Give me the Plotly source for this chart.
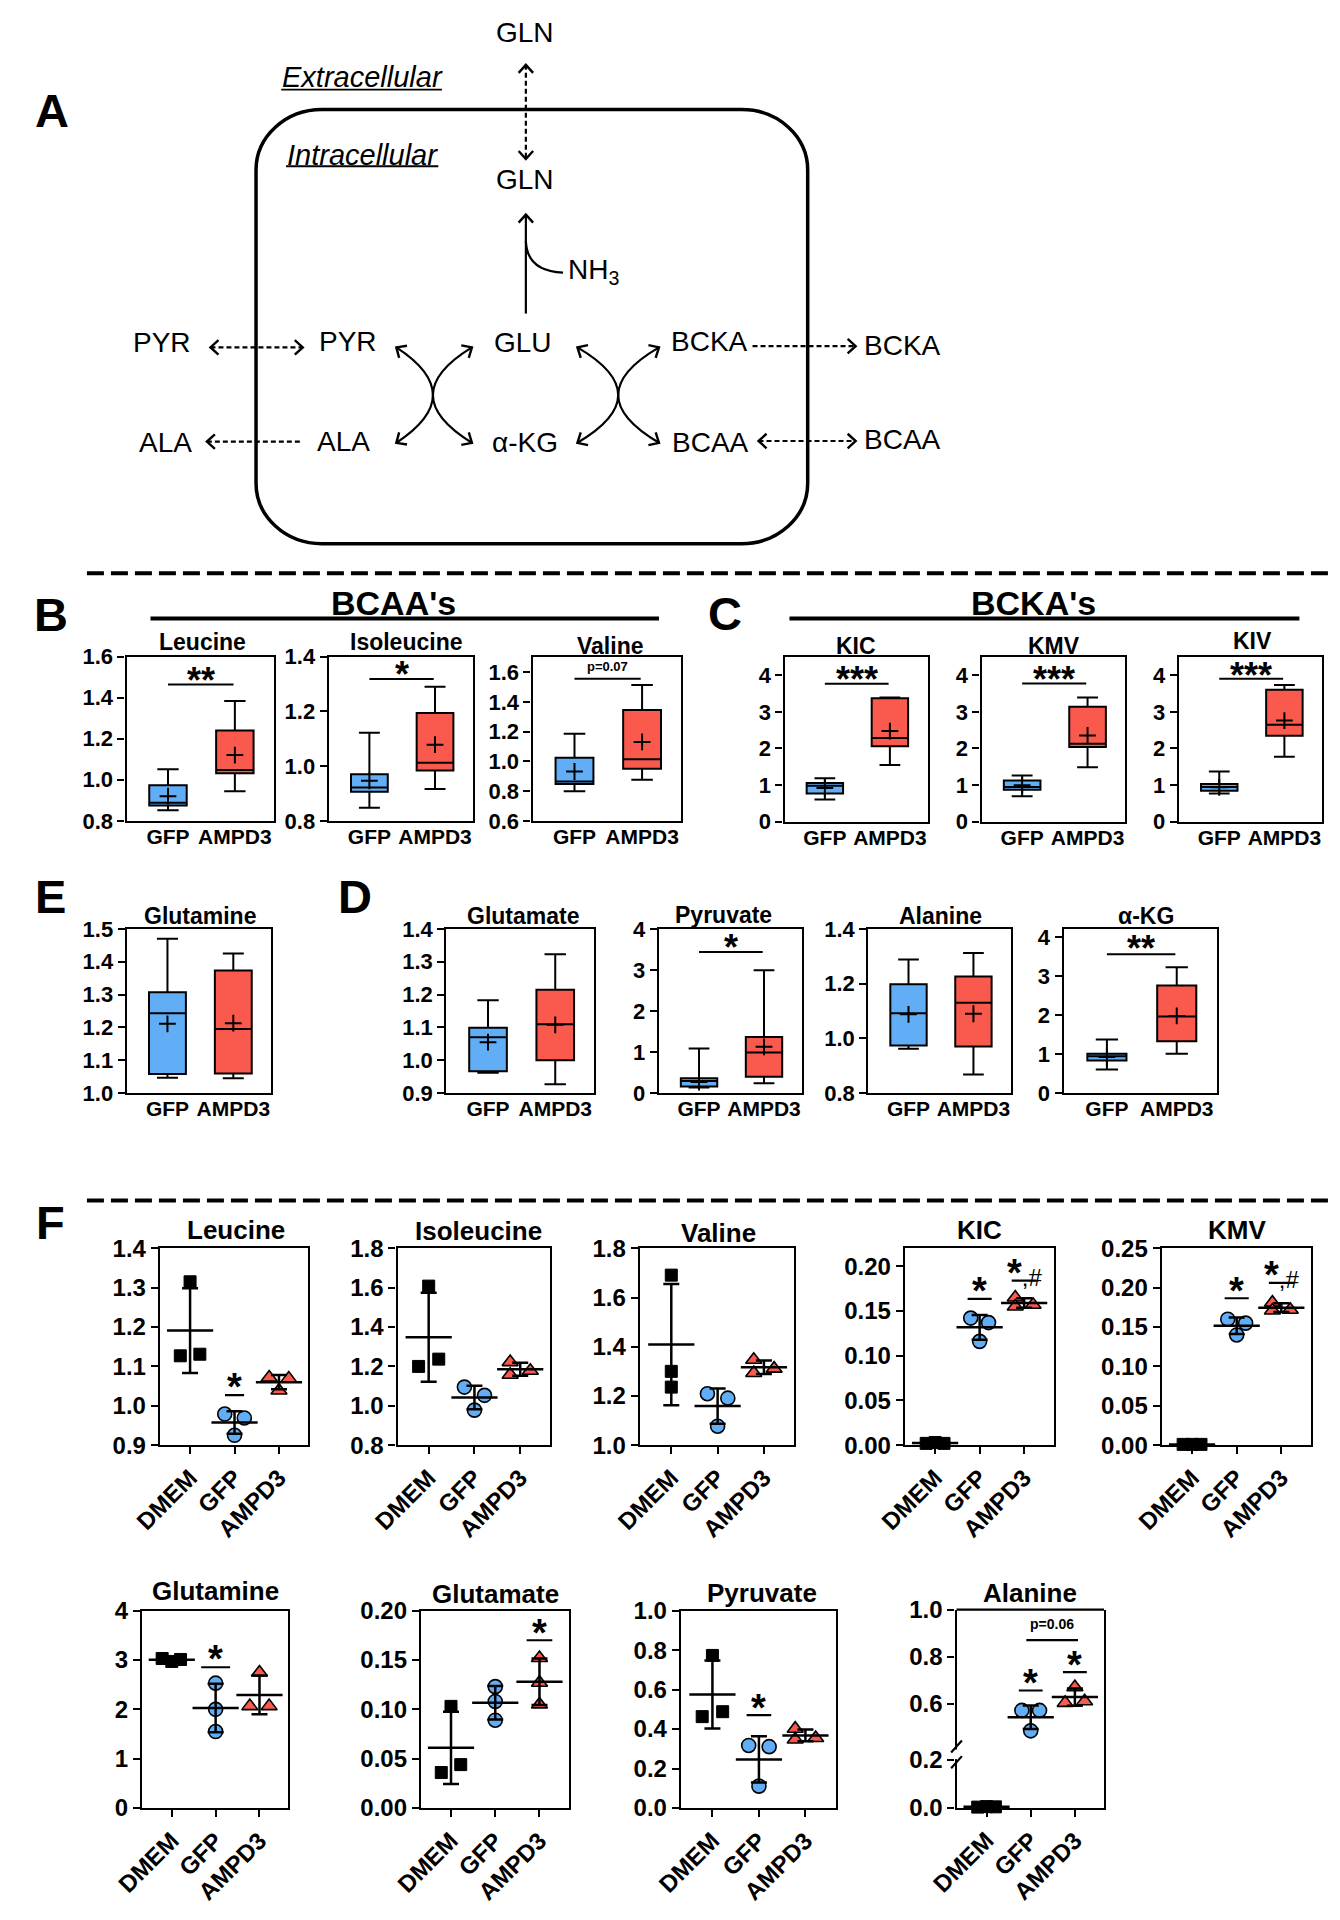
import math
import numpy as np
import plotly.graph_objects as go

# ------------------------------------------------------------------ data
box_groups = ["GFP", "AMPD3"]
# box summaries: [lower whisker, Q1, median, Q3, upper whisker, mean]
leu_gfp = [0.851, 0.875, 0.888, 0.973, 1.051, 0.920]
leu_ampd3 = [0.944, 1.032, 1.048, 1.240, 1.384, 1.120]
ile_gfp = [0.848, 0.906, 0.922, 0.970, 1.122, 0.946]
ile_ampd3 = [0.916, 0.984, 1.012, 1.194, 1.290, 1.078]
val_gfp = [0.799, 0.848, 0.865, 1.025, 1.186, 0.932]
val_ampd3 = [0.877, 0.950, 1.014, 1.346, 1.514, 1.131]
kic_gfp = [0.602, 0.764, 0.980, 1.052, 1.187, 0.917]
kic_ampd3 = [1.546, 2.058, 2.283, 3.371, 3.389, 2.472]
kmv_gfp = [0.692, 0.872, 0.944, 1.124, 1.258, 0.989]
kmv_ampd3 = [1.483, 2.040, 2.130, 3.137, 3.389, 2.355]
kiv_gfp = [0.764, 0.845, 0.944, 1.025, 1.366, 0.935]
kiv_ampd3 = [1.771, 2.346, 2.643, 3.604, 3.730, 2.760]
gln_gfp = [1.047, 1.058, 1.243, 1.307, 1.470, 1.211]
gln_ampd3 = [1.045, 1.060, 1.195, 1.373, 1.425, 1.213]
glu_gfp = [0.962, 0.967, 1.070, 1.099, 1.183, 1.055]
glu_ampd3 = [0.927, 1.000, 1.110, 1.215, 1.323, 1.108]
pyr_gfp = [0.137, 0.161, 0.298, 0.362, 1.087, 0.270]
pyr_ampd3 = [0.240, 0.400, 0.990, 1.368, 2.994, 1.127]
ala_gfp = [0.962, 0.974, 1.092, 1.198, 1.288, 1.088]
ala_ampd3 = [0.868, 0.970, 1.130, 1.226, 1.312, 1.090]
akg_gfp = [0.606, 0.834, 0.943, 1.010, 1.373, 0.926]
akg_ampd3 = [1.010, 1.330, 1.962, 2.762, 3.225, 1.979]

f_groups = ["DMEM", "GFP", "AMPD3"]
f_leu_dmem = [1.315, 1.127, 1.131]
f_leu_gfp = [0.979, 0.969, 0.925]
f_leu_ampd3 = [1.072, 1.069, 1.039]
f_ile_dmem = [1.608, 1.200, 1.237]
f_ile_gfp = [1.095, 1.053, 0.978]
f_ile_ampd3 = [1.222, 1.158, 1.178]
f_val_dmem = [1.691, 1.300, 1.236]
f_val_gfp = [1.209, 1.191, 1.077]
f_val_ampd3 = [1.347, 1.293, 1.311]
f_kic_dmem = [0.002, 0.003, 0.002]
f_kic_gfp = [0.142, 0.137, 0.116]
f_kic_ampd3 = [0.165, 0.155, 0.157]
f_kmv_dmem = [0.001, 0.001, 0.001]
f_kmv_gfp = [0.160, 0.155, 0.140]
f_kmv_ampd3 = [0.181, 0.171, 0.172]
f_gln_dmem = [3.03, 2.97, 3.01]
f_gln_gfp = [2.53, 2.00, 1.55]
f_gln_ampd3 = [2.745, 2.065, 2.065]
f_glu_dmem = [0.103, 0.036, 0.044]
f_glu_gfp = [0.123, 0.108, 0.089]
f_glu_ampd3 = [0.152, 0.127, 0.105]
f_pyr_dmem = [0.773, 0.463, 0.488]
f_pyr_gfp = [0.317, 0.311, 0.111]
f_pyr_ampd3 = [0.402, 0.347, 0.355]
f_ala_dmem = [0.003, 0.005, 0.004]
f_ala_gfp = [0.571, 0.571, 0.484]
f_ala_ampd3 = [0.670, 0.603, 0.610]

# ------------------------------------------------------------------ page geometry
W, H = 1340, 1920
REF_W = 1094.0   # positions below are measured on a 1094-px-wide preview
BODY = 8.0       # default html body margin (page px)


def X(x):
    return (x * W / REF_W - BODY) / W


def Y(y):
    return 1 - (y * W / REF_W - BODY) / H


FONT = "Liberation Sans, Arial, sans-serif"
BLUE = "#62AEF6"
RED = "#F95A4D"

fig = go.Figure()
layout = {}
shapes = []
annots = []
counter = [0]


def tfont(size, weight="bold", style="normal"):
    return dict(family=FONT, size=size, color="black", weight=weight, style=style)


def text(x, y, s, size, weight="bold", style="normal", xanchor="center", yanchor="middle"):
    annots.append(dict(x=X(x), y=Y(y), xref="paper", yref="paper", text=s, showarrow=False,
                       font=tfont(size, weight, style), xanchor=xanchor, yanchor=yanchor))


def pline(x0, y0, x1, y1, width=2.2, dash="solid"):
    shapes.append(dict(type="line", xref="paper", yref="paper", x0=X(x0), y0=Y(y0), x1=X(x1), y1=Y(y1),
                       line=dict(color="black", width=width, dash=dash)))


def ppath(cmds, width=2.2):
    shapes.append(dict(type="path", xref="paper", yref="paper", path=cmds,
                       line=dict(color="black", width=width), fillcolor="rgba(0,0,0,0)"))


def P(x, y):
    return f"{X(x):.6f},{Y(y):.6f}"


AX = dict(showline=True, linecolor="black", linewidth=2.2, showgrid=False, zeroline=False,
          fixedrange=True, tickcolor="black", tickwidth=2.2, ticklen=7)


def ids(n):
    s = "" if n == 1 else str(n)
    return "x" + s, "y" + s, "xaxis" + s, "yaxis" + s


def add_subplot(frame, xr, xtext, xsize, xangle, xticks, yr, t0, dt, fmt, ysize, xstand=0):
    counter[0] += 1
    n = counter[0]
    xid, yid, xk, yk = ids(n)
    l, r, t, b = frame
    layout[xk] = dict(AX, domain=[X(l), X(r)], range=xr, anchor=yid, mirror=True,
                      tickmode="array", tickvals=list(range(len(xtext))), ticktext=xtext,
                      tickfont=tfont(xsize), tickangle=xangle, ticks=xticks, ticklabelstandoff=xstand)
    layout[yk] = dict(AX, domain=[Y(b), Y(t)], range=yr, anchor=xid, mirror=True,
                      tickmode="linear", tick0=t0, dtick=dt, tickformat=fmt,
                      ticks="outside", tickfont=tfont(ysize))
    return xid, yid


# ------------------------------------------------------------------ panel A (pathway sketch)
def chevron(x, y, dx, dy, L=9.0, ang=42):
    n = math.hypot(dx, dy)
    bx, by = -dx / n, -dy / n
    a = math.radians(ang)
    p1 = (x + L * (bx * math.cos(a) - by * math.sin(a)), y + L * (bx * math.sin(a) + by * math.cos(a)))
    p2 = (x + L * (bx * math.cos(-a) - by * math.sin(-a)), y + L * (bx * math.sin(-a) + by * math.cos(-a)))
    ppath(f"M {P(*p1)} L {P(x, y)} L {P(*p2)}", width=2.4)


l, r, t, b, rx, ry, k = 190, 650, 79, 438.5, 55, 50, 0.5523
ppath(f"M {P(l+rx, t)} L {P(r-rx, t)} C {P(r-rx+k*rx, t)} {P(r, t+ry-k*ry)} {P(r, t+ry)} "
      f"L {P(r, b-ry)} C {P(r, b-ry+k*ry)} {P(r-rx+k*rx, b)} {P(r-rx, b)} "
      f"L {P(l+rx, b)} C {P(l+rx-k*rx, b)} {P(l, b-ry+k*ry)} {P(l, b-ry)} "
      f"L {P(l, t+ry)} C {P(l, t+ry-k*ry)} {P(l+rx-k*rx, t)} {P(l+rx, t)} Z", width=3.5)

DASH = "5px,3px"
pline(415, 42, 415, 120, dash=DASH)
chevron(415, 42, 0, -1)
chevron(415, 120, 0, 1)
pline(415, 248, 415, 166)
chevron(415, 166, 0, -1)
ppath(f"M {P(415, 188)} Q {P(416, 213)} {P(446, 214)}")
pline(152, 276, 229, 276, dash=DASH)
chevron(152, 276, -1, 0)
chevron(229, 276, 1, 0)
pline(149, 354, 229, 354, dash=DASH)
chevron(149, 354, -1, 0)
pline(604, 275, 690, 275, dash=DASH)
chevron(690, 275, 1, 0)
pline(609, 353.5, 690, 353.5, dash=DASH)
chevron(609, 353.5, -1, 0)
chevron(690, 353.5, 1, 0)
for (xa, xc, xb) in [(307, 368, 307), (370, 305, 370), (458, 526, 458), (526, 458, 526)]:
    ya, yc, yb = 276, 315.5, 355
    ppath(f"M {P(xa, ya)} Q {P(xc, yc)} {P(xb, yb)}")
    chevron(xa, ya, xa - xc, ya - yc)
    chevron(xb, yb, xb - xc, yb - yc)

DS = 28
text(414, 15.5, "GLN", DS, "normal")
text(414, 137, "GLN", DS, "normal")
text(471, 213, "NH<sub>3</sub>", DS, "normal")
text(112, 272, "PYR", DS, "normal")
text(267, 271, "PYR", DS, "normal")
text(413, 272, "GLU", DS, "normal")
text(568, 271.5, "BCKA", DS, "normal")
text(729, 274, "BCKA", DS, "normal")
text(114.6, 355, "ALA", DS, "normal")
text(263, 353.5, "ALA", DS, "normal")
text(414, 355, "α-KG", DS, "normal")
text(569, 355, "BCAA", DS, "normal")
text(729, 352, "BCAA", DS, "normal")
text(278.6, 52, "Extracellular", 29, "normal", "italic")
pline(211, 62.5, 345, 62.5, width=1.8)
text(278.6, 116.5, "Intracellular", 29, "normal", "italic")
pline(215, 126, 342, 126, width=1.8)

LET = 47
text(20, 80, "A", LET)
text(19, 497, "B", LET)
text(581, 496, "C", LET)
text(19, 731, "E", LET)
text(272.6, 731, "D", LET)
text(19, 1001, "F", LET)
text(304.5, 488, "BCAA's", 34)
pline(102, 500.5, 526, 500.5, width=4)
text(838.5, 488, "BCKA's", 34)
pline(634.8, 500.5, 1060, 500.5, width=4)
pline(49, 463, 1090, 463, width=4, dash="17px,7px")
pline(49, 982.5, 1090, 982.5, width=4, dash="17px,7px")

# ------------------------------------------------------------------ box panels (B-E)
BOX_XR = [-0.62, 1.58]
STAR = 36
box_panels = [
    ("Leucine", leu_gfp, leu_ampd3, (82, 204.7, 532, 668), [0.8, 1.6], 0.8, 0.2, ".1f", (145, 520), (1.464, "**", 1.525)),
    ("Isoleucine", ile_gfp, ile_ampd3, (250.6, 371, 532, 668), [0.8, 1.4], 0.8, 0.2, ".1f", (315, 520), (1.318, "*", 1.365)),
    ("Valine", val_gfp, val_ampd3, (420.6, 544.6, 532, 668), [0.6, 1.706], 0.6, 0.2, ".1f", (485, 523), (1.556, "p=0.07", 1.64)),
    ("KIC", kic_gfp, kic_ampd3, (630.7, 750, 532, 668.6), [0, 4.51], 0, 1, "d", (690, 523), (3.766, "***", 4.13)),
    ("KMV", kmv_gfp, kmv_ampd3, (795, 915, 532, 668.6), [0, 4.51], 0, 1, "d", (855, 523), (3.775, "***", 4.13)),
    ("KIV", kiv_gfp, kiv_ampd3, (959.5, 1079, 532, 668.6), [0, 4.51], 0, 1, "d", (1020.7, 519), (3.901, "***", 4.24)),
    ("Glutamine", gln_gfp, gln_ampd3, (82.1, 202.9, 757.5, 893.5), [1.0, 1.5], 1.0, 0.1, ".1f", (143.4, 747), None),
    ("Glutamate", glu_gfp, glu_ampd3, (348.7, 472, 757.5, 893.5), [0.9, 1.4], 0.9, 0.1, ".1f", (412.5, 747), None),
    ("Pyruvate", pyr_gfp, pyr_ampd3, (525.8, 645, 757.5, 893.5), [0, 4], 0, 1, "d", (580, 746), (3.44, "*", 3.76)),
    ("Alanine", ala_gfp, ala_ampd3, (700.5, 819.6, 757.5, 893.5), [0.8, 1.4], 0.8, 0.2, ".1f", (760.6, 747), None),
    ("α-KG", akg_gfp, akg_ampd3, (863.4, 991.5, 757.5, 893.5), [0, 4.21], 0, 1, "d", (932.3, 747), (3.562, "**", 3.92)),
]

for (title, gfp, amp, frame, yr, t0, dt, fmt, tpos, sig) in box_panels:
    xid, yid = add_subplot(frame, BOX_XR, box_groups, 21, 0, "", yr, t0, dt, fmt, 22, xstand=-4)
    for i, (s, col) in enumerate([(gfp, BLUE), (amp, RED)]):
        fig.add_trace(go.Box(x=[i], lowerfence=[s[0]], q1=[s[1]], median=[s[2]], q3=[s[3]],
                             upperfence=[s[4]], fillcolor=col, line=dict(color="black", width=2),
                             width=0.56, whiskerwidth=0.57, xaxis=xid, yaxis=yid,
                             showlegend=False, hoverinfo="skip"))
        fig.add_trace(go.Scatter(x=[i], y=[s[5]], mode="markers",
                                 marker=dict(symbol="cross-thin", size=12, line=dict(color="black", width=2)),
                                 xaxis=xid, yaxis=yid, showlegend=False, hoverinfo="skip"))
    text(tpos[0], tpos[1], title, 23)
    if sig:
        by, s, ty = sig
        shapes.append(dict(type="line", xref=xid, yref=yid, x0=0.0, x1=0.98, y0=by, y1=by,
                           line=dict(color="black", width=2)))
        sz = STAR if "*" in s else 13
        annots.append(dict(x=0.49, y=ty, xref=xid, yref=yid, text=s, showarrow=False,
                           font=tfont(sz), yshift=-0.24 * sz if "*" in s else 0))

# ------------------------------------------------------------------ panel F (dot plots, mean ± SD)
F_XR = [-0.68, 2.66]
MARK = [dict(symbol="square", size=12, color="black", line=dict(color="black", width=1)),
        dict(symbol="circle", size=14, color=BLUE, line=dict(color="black", width=1.6)),
        dict(symbol="triangle-up", size=14, color=RED, line=dict(color="black", width=1.6))]

SPA = [[0, -0.22, 0.22], [-0.22, 0.22, 0], [-0.22, 0.22, 0]]
f_panels = [
    ("Leucine", [f_leu_dmem, f_leu_gfp, f_leu_ampd3], SPA, (109.8, 233.6, 1022, 1185), [0.9, 1.4], 0.9, 0.1, ".1f", (173.5, 1007),
     [(0.785, 1.215, 1.027, "*", 1.071)]),
    ("Isoleucine", [f_ile_dmem, f_ile_gfp, f_ile_ampd3], [[0, -0.22, 0.22], [-0.22, 0.22, 0], [-0.22, -0.22, 0.22]],
     (308, 435.5, 1022, 1185), [0.8, 1.8], 0.8, 0.2, ".1f", (375.3, 1008), []),
    ("Valine", [f_val_dmem, f_val_gfp, f_val_ampd3], [[0, 0, 0], [-0.22, 0.22, 0], [-0.22, -0.22, 0.22]],
     (510, 639, 1022, 1185), [1.0, 1.8], 1.0, 0.2, ".1f", (576, 1009), []),
    ("KIC", [f_kic_dmem, f_kic_gfp, f_kic_ampd3], [[-0.2, 0, 0.2], [-0.2, 0.2, 0], [-0.2, -0.2, 0.2]],
     (731, 855, 1022, 1185), [0, 0.22], 0, 0.05, ".2f", (793.3, 1007),
     [(0.73, 1.27, 0.1635, "*", 0.1825), (1.72, 2.28, 0.184, "*,#", 0.2026)]),
    ("KMV", [f_kmv_dmem, f_kmv_gfp, f_kmv_ampd3], [[-0.2, 0, 0.2], [-0.2, 0.2, 0], [-0.2, -0.2, 0.2]],
     (945.2, 1069.5, 1022, 1185), [0, 0.25], 0, 0.05, ".2f", (1008, 1007),
     [(0.73, 1.27, 0.1866, "*", 0.2073), (1.72, 2.28, 0.206, "*,#", 0.228)]),
    ("Glutamine", [f_gln_dmem, f_gln_gfp, f_gln_ampd3], [[-0.22, 0, 0.2], [0, 0, 0], [0, -0.22, 0.22]],
     (94.9, 217, 1322, 1485.5), [0, 4], 0, 1, "d", (155.8, 1306), [(0.67, 1.33, 2.853, "*", 3.2)]),
    ("Glutamate", [f_glu_dmem, f_glu_gfp, f_glu_ampd3], [[0, -0.22, 0.22], [0, 0, 0], [0, 0, 0]],
     (327.5, 450.7, 1322, 1485.5), [0, 0.2], 0, 0.05, ".2f", (389.4, 1308), [(1.71, 2.29, 0.17, "*", 0.1867)]),
    ("Pyruvate", [f_pyr_dmem, f_pyr_gfp, f_pyr_ampd3], [[0, -0.22, 0.22], [-0.22, 0.22, 0], [-0.22, -0.22, 0.22]],
     (544.2, 673.7, 1322, 1485.5), [0, 1.0], 0, 0.2, ".1f", (611.9, 1307.6), [(0.735, 1.265, 0.471, "*", 0.554)]),
]


def draw_groups(data, spreads, axes_for):
    for i, vals in enumerate(data):
        xid, yid = axes_for(np.mean(vals))
        fig.add_trace(go.Scatter(x=[i + o for o in spreads[i]], y=vals, mode="markers", marker=MARK[i],
                                 xaxis=xid, yaxis=yid, showlegend=False, hoverinfo="skip", cliponaxis=False))
        m, sd = float(np.mean(vals)), float(np.std(vals, ddof=1))
        fig.add_trace(go.Scatter(x=[i], y=[m], mode="markers",
                                 marker=dict(symbol="line-ew", size=33, line=dict(color="black", width=2.5)),
                                 error_y=dict(type="data", array=[sd], visible=True, color="black",
                                              thickness=2.5, width=8),
                                 xaxis=xid, yaxis=yid, showlegend=False, hoverinfo="skip", cliponaxis=False))


def draw_sigs(sigs, xid, yid, size=38):
    for (x0, x1, by, s, ty) in sigs:
        shapes.append(dict(type="line", xref=xid, yref=yid, x0=x0, x1=x1, y0=by, y1=by,
                           line=dict(color="black", width=2.2)))
        if s.startswith("*"):
            rest = s[1:]
            label = "*" + (f"<span style='font-size:24px;font-weight:normal'>{rest}</span>" if rest else "")
            annots.append(dict(x=(x0 + x1) / 2, y=ty, xref=xid, yref=yid, text=label, showarrow=False,
                               font=tfont(size), yshift=-0.24 * size))
        else:
            annots.append(dict(x=(x0 + x1) / 2, y=ty, xref=xid, yref=yid, text=s, showarrow=False,
                               font=tfont(14)))


for (title, data, spreads, frame, yr, t0, dt, fmt, tpos, sigs) in f_panels:
    xid, yid = add_subplot(frame, F_XR, f_groups, 24, -45, "outside", yr, t0, dt, fmt, 24)
    draw_groups(data, spreads, lambda m, a=(xid, yid): a)
    draw_sigs(sigs, xid, yid)
    text(tpos[0], tpos[1], title, 26)

# Alanine with a broken y axis
al, ar, at, ab, split = 774.1, 897.1, 1321.2, 1485.3, 1441.0
counter[0] += 1
n = counter[0]
xid, ylo, xk, yk_lo = ids(n)
counter[0] += 1
_, yhi, _, yk_hi = ids(counter[0])
layout[xk] = dict(AX, domain=[X(al), X(ar)], range=F_XR, anchor=ylo, mirror=False,
                  tickmode="array", tickvals=[0, 1, 2], ticktext=f_groups, tickfont=tfont(24),
                  tickangle=-45, ticks="outside")
layout[yk_lo] = dict(AX, domain=[Y(ab), Y(split)], range=[0, 0.222], anchor=xid, mirror=True,
                     tickmode="array", tickvals=[0, 0.2], ticktext=["0.0", "0.2"],
                     ticks="outside", tickfont=tfont(24))
layout[yk_hi] = dict(AX, domain=[Y(split), Y(at)], range=[0.384, 1.0], anchor=xid, mirror=True,
                     tickmode="array", tickvals=[0.6, 0.8, 1.0], ticktext=["0.6", "0.8", "1.0"],
                     ticks="outside", tickfont=tfont(24))
draw_groups([f_ala_dmem, f_ala_gfp, f_ala_ampd3], [[-0.2, 0, 0.2], [-0.2, 0.2, 0], [0, -0.22, 0.22]],
            lambda m: (xid, ylo) if m < 0.2 else (xid, yhi))
draw_sigs([(0.73, 1.27, 0.6557, "*", 0.728), (1.73, 2.27, 0.734, "*", 0.805),
           (0.9, 2.07, 0.870, "p=0.06", 0.937)], xid, yhi)
text(835.2, 1307.6, "Alanine", 26)
pline(al, at, ar, at, width=2.2)
shapes.append(dict(type="rect", xref="paper", yref="paper", x0=X(al - 2), x1=X(al + 2),
                   y0=Y(1445), y1=Y(1437), fillcolor="white", line=dict(width=0)))
for cy in (1434.5, 1447.5):
    pline(al - 4.5, cy + 5, al + 4.5, cy - 5, width=2.2)

# ------------------------------------------------------------------ finish
fig.update_layout(width=W, height=H, margin=dict(l=0, r=0, t=0, b=0),
                  paper_bgcolor="white", plot_bgcolor="white", showlegend=False,
                  shapes=shapes, annotations=annots, font=dict(family=FONT, color="black"),
                  **layout)
fig.write_html("out.html")
